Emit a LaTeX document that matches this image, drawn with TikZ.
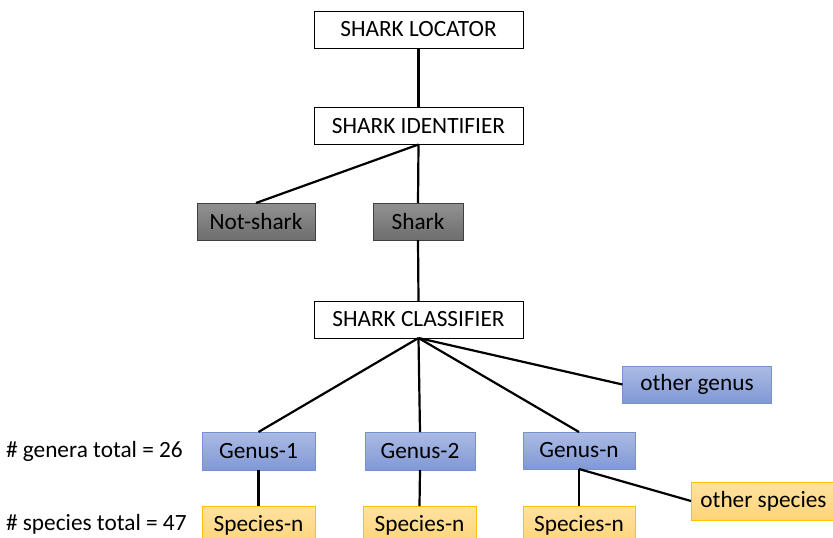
\documentclass[tikz,border=0pt]{standalone}
\usepackage{fontspec}
\setmainfont{Carlito}
\definecolor{bborder}{RGB}{117,145,208}
\definecolor{btop}{RGB}{172,187,228}
\definecolor{bbot}{RGB}{128,152,214}
\definecolor{yborder}{RGB}{255,192,0}
\definecolor{ytop}{RGB}{255,226,160}
\definecolor{ybot}{RGB}{255,212,120}
\begin{document}
\begin{tikzpicture}[x=1pt,y=-1pt,
  every node/.style={font=\fontsize{23.3}{27}\selectfont, inner sep=0pt, outer sep=0pt},
  wbox/.style={draw=black, line width=1pt, fill=white, minimum height=37pt},
  gbox/.style={draw=black!75, line width=1pt, top color=black!43, bottom color=black!57, minimum height=37pt},
  bbox/.style={draw=bborder, line width=1pt, top color=btop, bottom color=bbot, minimum height=37pt},
  ybox/.style={draw=yborder, line width=1pt, top color=ytop, bottom color=ybot, minimum height=37pt},
  conn/.style={line width=2.2pt, black}]
\useasboundingbox (0,0) rectangle (833,538);
\clip (0,0) rectangle (833,538);

\node[wbox, minimum width=209pt] (loc) at (418.5,29.5) {SHARK LOCATOR};
\node[wbox, minimum width=209pt] (ident) at (418.5,126) {SHARK IDENTIFIER};
\node[gbox, minimum width=118pt] (notshark) at (256,221.5) {Not-shark};
\node[gbox, minimum width=90pt] (shark) at (418,221.5) {Shark};
\node[wbox, minimum width=209pt] (class) at (418.5,319.5) {SHARK CLASSIFIER};
\node[bbox, minimum width=149pt] (ogen) at (697,384.5) {other genus};
\node[bbox, minimum width=113pt, minimum height=38pt] (g1) at (258.5,451) {Genus-1};
\node[bbox, minimum width=110pt, minimum height=38pt] (g2) at (420,451) {Genus-2};
\node[bbox, minimum width=112pt] (gn) at (579,450.5) {Genus-n};
\node[ybox, minimum width=113pt, minimum height=38pt, anchor=north] (s1) at (258.5,506) {Species-n};
\node[ybox, minimum width=113pt, minimum height=38pt, anchor=north] (s2) at (419.5,506) {Species-n};
\node[ybox, minimum width=112pt, minimum height=38pt, anchor=north] (sn) at (579,506) {Species-n};
\node[ybox, minimum width=145pt, minimum height=38pt, anchor=west] (osp) at (691,501) {other species};

\node[anchor=west] (lgen) at (6,451) {\# genera total = 26};
\node[anchor=west] (lsp) at (6,524) {\# species total = 47};

\draw[conn] (loc.south) -- (ident.north);
\draw[conn] (ident.south) -- (notshark.north);
\draw[conn] (ident.south) -- (shark.north);
\draw[conn] (shark.south) -- (class.north);
\draw[conn] (class.south) -- (g1.north);
\draw[conn] (class.south) -- (g2.north);
\draw[conn] (class.south) -- (gn.north);
\draw[conn] (class.south) -- (ogen.west);
\draw[conn] (g1.south) -- (s1.north);
\draw[conn] (g2.south) -- (s2.north);
\draw[conn] (gn.south) -- (sn.north);
\draw[conn] (gn.south) -- (osp.west);
\end{tikzpicture}
\end{document}
